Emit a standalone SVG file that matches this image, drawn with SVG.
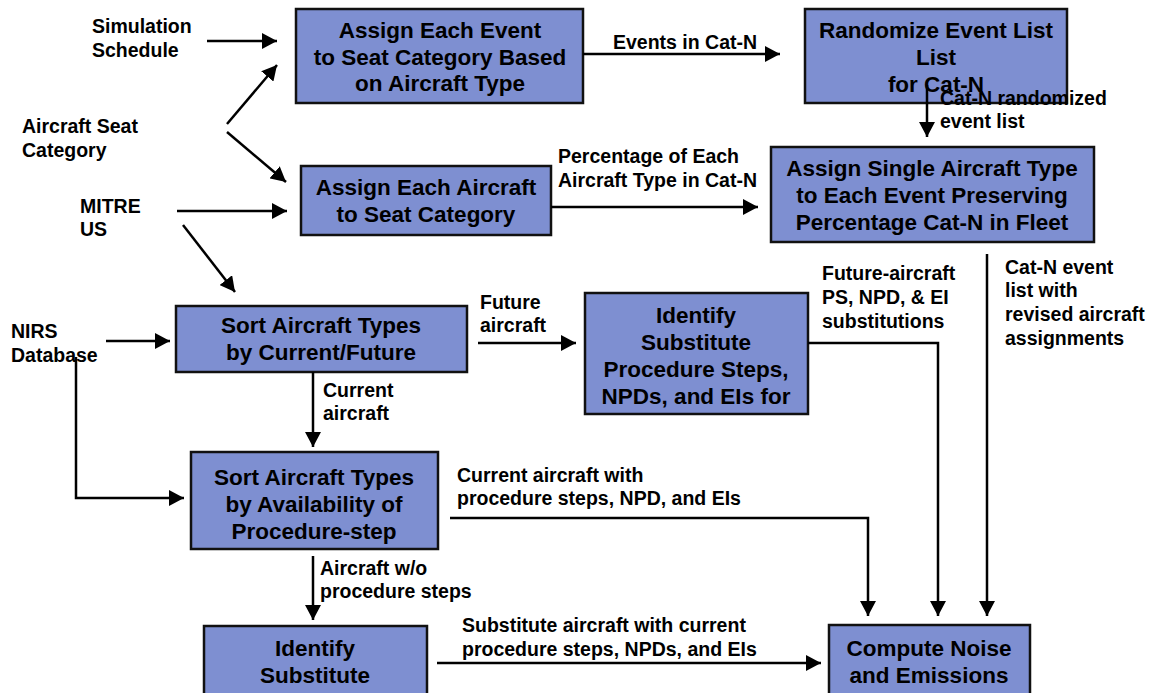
<svg xmlns="http://www.w3.org/2000/svg" width="1157" height="693" viewBox="0 0 1157 693">
<style>
.box{fill:#7e8fd1;stroke:#111;stroke-width:2.5}
.bt{font-family:"Liberation Sans",Arial,sans-serif;font-weight:bold;font-size:22.5px;fill:#000;text-anchor:middle}
.lb{font-family:"Liberation Sans",Arial,sans-serif;font-weight:bold;font-size:19.5px;fill:#000}
.c{fill:none;stroke:#000;stroke-width:2.5;marker-end:url(#ah)}
.cn{fill:none;stroke:#000;stroke-width:2.5}
</style>
<defs>
<marker id="ah" markerUnits="userSpaceOnUse" viewBox="0 0 15 16" refX="15" refY="8" markerWidth="15" markerHeight="16" orient="auto">
<path d="M0,0 L15,8 L0,16 Z" fill="#000"/>
</marker>
</defs>
<rect width="1157" height="693" fill="#fff"/>

<g id="inputs">
<g id="in-sim"><text class="lb" x="92" y="33">Simulation</text><text class="lb" x="92" y="57">Schedule</text></g>
<g id="in-seat"><text class="lb" x="22" y="133">Aircraft Seat</text><text class="lb" x="22" y="157">Category</text></g>
<g id="in-mitre"><text class="lb" x="80" y="213">MITRE</text><text class="lb" x="80" y="236">US</text></g>
<g id="in-nirs"><text class="lb" x="11" y="338">NIRS</text><text class="lb" x="11" y="362">Database</text></g>
</g>

<g id="n1"><rect class="box" x="296" y="9" width="287" height="94"/>
<text class="bt" x="440" y="38">Assign Each Event</text>
<text class="bt" x="440" y="65">to Seat Category Based</text>
<text class="bt" x="440" y="91">on Aircraft Type</text></g>

<g id="n2"><rect class="box" x="805" y="9" width="262" height="94"/>
<text class="bt" x="936" y="38">Randomize Event List</text>
<text class="bt" x="936" y="65">List</text>
<text class="bt" x="936" y="92">for Cat-N</text></g>

<g id="n3"><rect class="box" x="301" y="166" width="250" height="69"/>
<text class="bt" x="426" y="195">Assign Each Aircraft</text>
<text class="bt" x="426" y="222">to Seat Category</text></g>

<g id="n4"><rect class="box" x="771" y="147" width="323" height="95"/>
<text class="bt" x="932" y="176">Assign Single Aircraft Type</text>
<text class="bt" x="932" y="203">to Each Event Preserving</text>
<text class="bt" x="932" y="230">Percentage Cat-N in Fleet</text></g>

<g id="n5"><rect class="box" x="176" y="306" width="291" height="66"/>
<text class="bt" x="321" y="333">Sort Aircraft Types</text>
<text class="bt" x="321" y="360">by Current/Future</text></g>

<g id="n6"><rect class="box" x="585" y="293" width="223" height="121"/>
<text class="bt" x="696" y="323">Identify</text>
<text class="bt" x="696" y="350">Substitute</text>
<text class="bt" x="696" y="377">Procedure Steps,</text>
<text class="bt" x="696" y="404">NPDs, and EIs for</text></g>

<g id="n7"><rect class="box" x="191" y="452" width="247" height="97"/>
<text class="bt" x="314" y="485">Sort Aircraft Types</text>
<text class="bt" x="314" y="512">by Availability of</text>
<text class="bt" x="314" y="539">Procedure-step</text></g>

<g id="n8"><rect class="box" x="204" y="626" width="223" height="80"/>
<text class="bt" x="315" y="656">Identify</text>
<text class="bt" x="315" y="683">Substitute</text></g>

<g id="n9"><rect class="box" x="829" y="625" width="201" height="80"/>
<text class="bt" x="929" y="656">Compute Noise</text>
<text class="bt" x="929" y="683">and Emissions</text></g>

<g id="connectors">
<line class="c" x1="207" y1="41" x2="277" y2="41"/>
<line class="c" x1="227" y1="124" x2="277" y2="65"/>
<line class="c" x1="227" y1="132" x2="286" y2="182"/>
<line class="c" x1="177" y1="211" x2="287" y2="211"/>
<line class="c" x1="183" y1="225" x2="235" y2="292"/>
<line class="c" x1="106" y1="341" x2="170" y2="341"/>
<polyline class="c" points="76,357 76,498 184,498"/>
<line class="c" x1="583" y1="54" x2="780" y2="54"/>
<line class="c" x1="927" y1="85" x2="927" y2="137"/>
<line class="c" x1="551" y1="207" x2="758" y2="207"/>
<line class="c" x1="478" y1="343" x2="576" y2="343"/>
<line class="c" x1="313" y1="372" x2="313" y2="447"/>
<line class="c" x1="313" y1="556" x2="313" y2="620"/>
<polyline class="c" points="450,518 868,518 868,616"/>
<polyline class="c" points="808,343 938,343 938,616"/>
<line class="c" x1="987" y1="254" x2="987" y2="616"/>
<line class="c" x1="437" y1="663" x2="821" y2="663"/>
</g>

<g id="edge-labels">
<text class="lb" x="613" y="49">Events in Cat-N</text>
<text class="lb" x="940" y="105">Cat-N randomized</text>
<text class="lb" x="940" y="128">event list</text>
<text class="lb" x="558" y="163">Percentage of Each</text>
<text class="lb" x="558" y="187">Aircraft Type in Cat-N</text>
<text class="lb" x="480" y="309">Future</text>
<text class="lb" x="480" y="332">aircraft</text>
<text class="lb" x="323" y="397">Current</text>
<text class="lb" x="323" y="420">aircraft</text>
<text class="lb" x="320" y="575">Aircraft w/o</text>
<text class="lb" x="320" y="598">procedure steps</text>
<text class="lb" x="457" y="482">Current aircraft with</text>
<text class="lb" x="457" y="505">procedure steps, NPD, and EIs</text>
<text class="lb" x="822" y="280">Future-aircraft</text>
<text class="lb" x="822" y="304">PS, NPD, &amp; EI</text>
<text class="lb" x="822" y="328">substitutions</text>
<text class="lb" x="1005" y="274">Cat-N event</text>
<text class="lb" x="1005" y="297">list with</text>
<text class="lb" x="1005" y="321">revised aircraft</text>
<text class="lb" x="1005" y="345">assignments</text>
<text class="lb" x="462" y="632">Substitute aircraft with current</text>
<text class="lb" x="462" y="656">procedure steps, NPDs, and EIs</text>
</g>
</svg>
